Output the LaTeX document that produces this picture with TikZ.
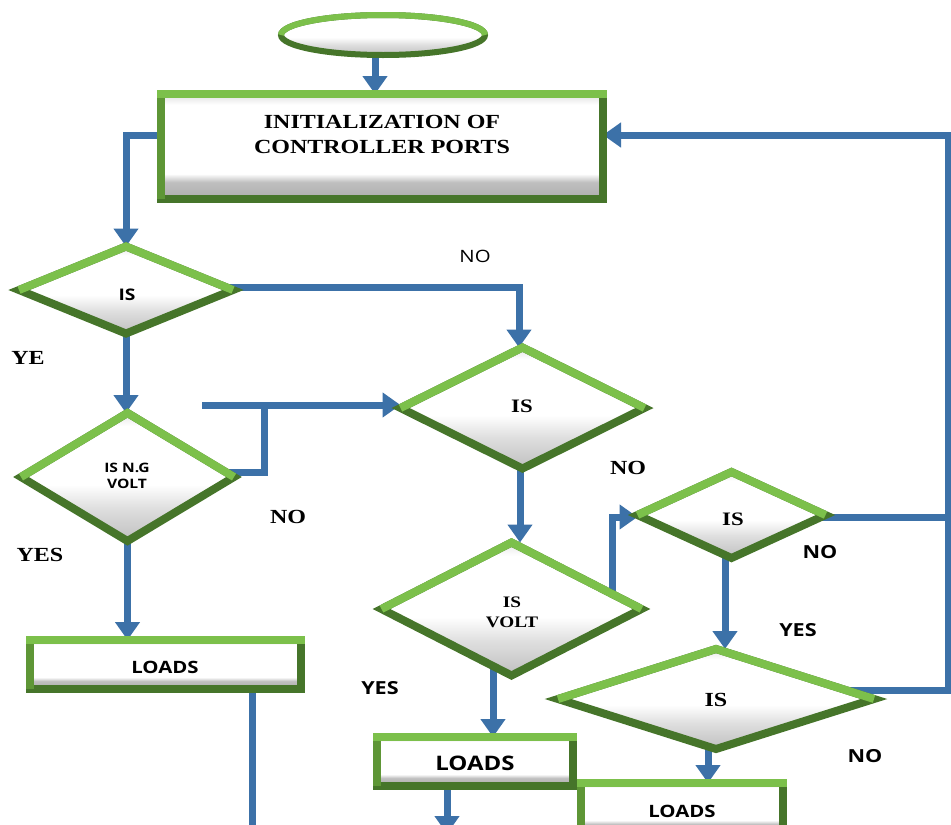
\documentclass[tikz,border=0pt]{standalone}
\usepackage{fontspec}
\setmainfont{Liberation Serif}[FakeStretch=1.2]
\newfontfamily\osans{Open Sans}[FakeStretch=1.2]
\usetikzlibrary{shapes.geometric,arrows.meta,calc}
\definecolor{glight}{HTML}{7CC04B}
\definecolor{gmid}{HTML}{5E9636}
\definecolor{gdark}{HTML}{46752A}
\definecolor{cblue}{HTML}{3C71A8}
\pgfdeclarelayer{bg}
\pgfsetlayers{bg,main}
\pgfdeclareverticalshading{boxbevel}{100bp}{color(0bp)=(gray!65); color(25bp)=(gray!65); color(33bp)=(gray!50); color(37bp)=(white); color(70bp)=(white); color(74bp)=(gray!20); color(100bp)=(gray!20)}
\pgfdeclareverticalshading{diabevel}{100bp}{color(0bp)=(gray!50); color(25bp)=(gray!50); color(38bp)=(gray!25); color(47bp)=(white); color(70bp)=(white); color(75bp)=(gray!20); color(100bp)=(gray!20)}
\tikzset{
  dia/.style={diamond, draw=gdark, line width=8pt, line join=miter, outer sep=0pt, inner sep=0pt,
    shading=diabevel},
  boxnode/.style={rectangle, draw=gdark, line width=8pt, outer sep=0pt, inner sep=0pt,
    shading=boxbevel},
  conn/.style={draw=cblue, line width=7pt},
  arr/.style={conn, -{Triangle[width=24pt,length=18pt]}},
  lserif/.style={font=\bfseries\fontsize{#1}{#1}\selectfont, inner sep=0pt},
  lsans/.style={font=\osans\bfseries\fontsize{#1}{#1}\selectfont, inner sep=0pt},
  lsansr/.style={font=\osans\fontsize{#1}{#1}\selectfont, inner sep=0pt},
}
\begin{document}
\begin{tikzpicture}[x=1pt,y=-1pt]
\useasboundingbox (0,0) rectangle (951,825);

% shapes
\node[ellipse, draw=gdark, line width=6pt, outer sep=0pt, inner sep=0pt,
      minimum width=204pt, minimum height=40pt, shading=diabevel] (start) at (383,35) {};
\node[boxnode, minimum width=442pt, minimum height=105pt] (init) at (382,146.5) {};
\node[dia, minimum width=214pt, minimum height=87pt] (d1) at (126,290) {};
\node[dia, minimum width=213pt, minimum height=128pt] (d2) at (127.5,477) {};
\node[dia, minimum width=244pt, minimum height=121pt] (d3) at (522.5,408) {};
\node[dia, minimum width=260pt, minimum height=133pt] (d4) at (511.5,609) {};
\node[dia, minimum width=188pt, minimum height=86pt] (d5) at (731.5,515) {};
\node[dia, minimum width=316pt, minimum height=100pt] (d6) at (716,699) {};
\node[boxnode, minimum width=271pt, minimum height=49pt] (L1) at (165.5,664.5) {};
\node[boxnode, minimum width=196pt, minimum height=49pt] (L2) at (475,761.5) {};
\node[boxnode, minimum width=202pt, minimum height=49pt] (L3) at (682,807.5) {};

% two-tone borders
\foreach \n in {d1,d2,d3,d4,d5,d6}
  \draw[glight, line width=8pt, line join=miter] (\n.west) -- (\n.north) -- (\n.east);
\foreach \n in {init,L1,L2,L3}{
  \draw[gmid, line width=8pt] (\n.south west) -- (\n.north west);
  \draw[glight, line width=8pt] ([xshift=-4pt]\n.north west) -- ([xshift=4pt]\n.north east);
}
\draw[glight, line width=6pt] (start.west) arc[start angle=180, end angle=0, x radius=102pt, y radius=20pt];

% texts
\node[font=\bfseries\fontsize{20}{25}\selectfont, align=center, inner sep=0pt] (tinit) at (382,134) {INITIALIZATION OF\\CONTROLLER PORTS};
\node[lsans=16] (t1) at (127,295) {IS};
\node[font=\osans\bfseries\fontsize{13}{16}\selectfont, align=center, inner sep=0pt] (t2) at (127,476) {IS N.G\\VOLT};
\node[lserif=19] (t3) at (522,406) {IS};
\node[font=\bfseries\fontsize{16}{20}\selectfont, align=center, inner sep=0pt] (t4) at (512,612) {IS\\VOLT};
\node[lserif=19] (t5) at (733,519) {IS};
\node[lserif=20] (t6) at (716,700) {IS};
\node[lsans=17] (tL1) at (165,667) {LOADS};
\node[lsans=20] (tL2) at (475,763) {LOADS};
\node[lsans=17] (tL3) at (682,811) {LOADS};

\node[lserif=20] (ye1) at (28,358) {YE};
\node[lserif=20] (yes1) at (40,555) {YES};
\node[lserif=20] (no1) at (288,517) {NO};
\node[lsansr=17] (no2) at (475,256) {NO};
\node[lserif=20] (no3) at (628,468) {NO};
\node[lsans=18] (yes2) at (380,688) {YES};
\node[lsans=18] (no4) at (820,552) {NO};
\node[lsans=18] (yes3) at (798,630) {YES};
\node[lsans=18] (no5) at (865,756) {NO};

% connector helper coordinates
\coordinate (a0) at (375,0);
\coordinate (c1) at (125,135);
\coordinate (c5) at (252,840);
\coordinate (c6) at (519,287);
\coordinate (c7a) at (264,472);
\coordinate (c7b) at (264,405);
\coordinate (c7s) at (202,405);
\coordinate (c8) at (520,0);
\coordinate (c9) at (493,0);
\coordinate (c10) at (612,517);
\coordinate (c11) at (948,517);
\coordinate (c12a) at (948,690);
\coordinate (c12b) at (948,135);
\coordinate (c13) at (725,0);
\coordinate (c14) at (708,0);
\coordinate (c15) at (447,834);

\begin{pgfonlayer}{bg}
\fill[white] (0,0) rectangle (951,825);
\draw[arr] (start.center -| a0) -- (init.north -| a0);
\draw[arr] (init.center |- c1) -| (d1.north);
\draw[arr] (d1.center) -- (d2.north -| d1.center);
\draw[arr] (d2.center) -- (d2.center |- L1.north);
\draw[conn] (L1.center -| c5) -- (c5);
\draw[arr] (d1.center |- c6) -- (c6) -- (c6 |- d3.north);
\draw[conn] (d2.center |- c7a) -- (c7a) -- (c7b);
\draw[conn] (c7s) -- (c7b);
\draw[arr] (c7b) -- (d3.west |- c7b);
\draw[arr] (d3.center -| c8) -- (d4.north -| c8);
\draw[arr] (d4.center -| c9) -- (L2.north -| c9);
\draw[arr] (d4.center -| c10) -- (c10) -- (d5.west |- c10);
\draw[conn] (d5.center |- c11) -- (c11);
\draw[arr] (d6.center |- c12a) -- (c12a) -- (c12b) -- (init.east |- c12b);
\draw[arr] (d5.center -| c13) -- (d6.north -| c13);
\draw[arr] (d6.center -| c14) -- (L3.north -| c14);
\draw[arr] (L2.center -| c15) -- (c15);
\end{pgfonlayer}
\end{tikzpicture}
\end{document}
